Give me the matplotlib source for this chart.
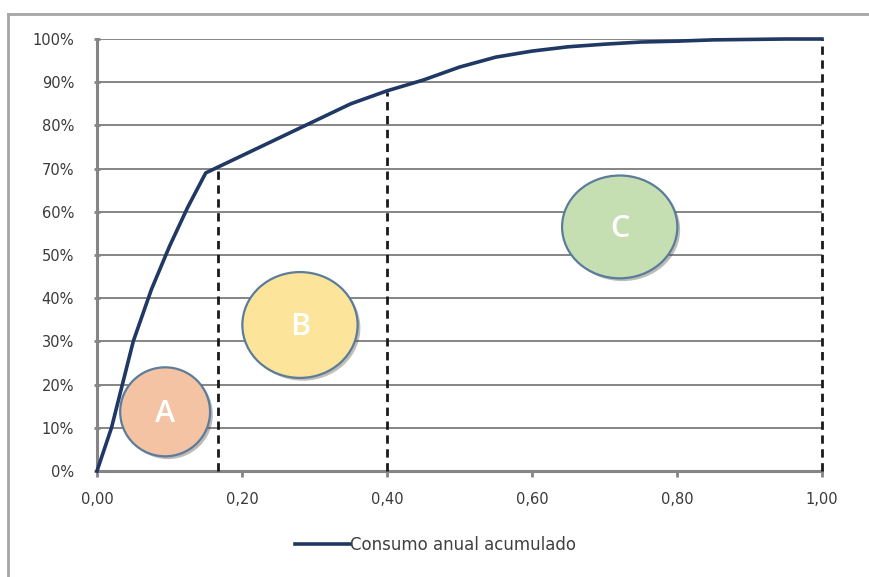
import matplotlib.pyplot as plt
from matplotlib.patches import Ellipse
from matplotlib.lines import Line2D
import matplotlib.patheffects as pe

plt.rcParams['font.family'] = ['DejaVu Sans']

# cumulative share of items vs cumulative annual consumption
share = [0.0, 0.02, 0.05, 0.075, 0.10, 0.125, 0.15, 0.20, 0.25, 0.30, 0.35, 0.40,
         0.45, 0.50, 0.55, 0.60, 0.65, 0.70, 0.75, 0.80, 0.85, 0.90, 0.95, 1.0]
consumo = [0.0, 0.10, 0.30, 0.42, 0.52, 0.61, 0.69, 0.73, 0.77, 0.81, 0.85, 0.88,
           0.905, 0.935, 0.958, 0.972, 0.982, 0.988, 0.993, 0.995, 0.998, 0.999, 1.0, 1.0]

# class boundaries (x, y top of dashed line)
cut_x = [0.167, 0.40, 1.0]
cut_y = [0.706, 0.877, 1.0]

classes = ['A', 'B', 'C']
class_colors = ['#F4C3A3', '#FCE59A', '#C6DFB2']

yticks = [i / 10 for i in range(11)]
ytick_labels = [f'{i * 10}%' for i in range(11)]
xticks = [0.0, 0.2, 0.4, 0.6, 0.8, 1.0]
xtick_labels = ['0,00', '0,20', '0,40', '0,60', '0,80', '1,00']

fig = plt.figure(figsize=(8.69, 5.77), dpi=100)
ax = fig.add_axes([0.1116, 0.1837, 0.8343, 0.7487])

# outer chart frame (only top and left visible)
fig.add_artist(Line2D([8 / 869, 1.0], [1 - 14 / 577, 1 - 14 / 577], transform=fig.transFigure,
                      color='#A6A6A6', lw=2))
fig.add_artist(Line2D([8 / 869, 8 / 869], [0.0, 1 - 14 / 577], transform=fig.transFigure,
                      color='#A6A6A6', lw=2))

ax.set_xlim(0, 1.0)
ax.set_ylim(0, 1.0)
ax.set_yticks(yticks)
ax.set_yticklabels(ytick_labels)
ax.set_xticks(xticks)
ax.set_xticklabels(xtick_labels)
ax.grid(axis='y', color='#858585', lw=1.4, zorder=0)
ax.set_axisbelow(True)
for s in ['top', 'right']:
    ax.spines[s].set_visible(False)
for s in ['left', 'bottom']:
    ax.spines[s].set_color('#858585')
    ax.spines[s].set_linewidth(2.2)
ax.tick_params(axis='y', length=5, width=2, color='#858585', labelsize=10.5,
               labelcolor='#3A3A3A', direction='inout', pad=14)
ax.tick_params(axis='x', length=4, width=2, color='#858585', labelsize=10.5,
               labelcolor='#3A3A3A', pad=11)

# class bubbles
centers = [(0.094, 0.137), (0.28, 0.338), (0.721, 0.565)]
sizes = [(0.124, 0.206), (0.159, 0.245), (0.159, 0.238)]
for lab, col, (cx, cy), (w, h) in zip(classes, class_colors, centers, sizes):
    e = Ellipse((cx, cy), w, h, facecolor=col, edgecolor='#5B7C9A', lw=1.6, zorder=2,
                path_effects=[pe.SimplePatchShadow(offset=(2, -2), alpha=0.35), pe.Normal()])
    ax.add_patch(e)
    ax.text(cx, cy - 0.005, lab, color='white', fontsize=22, fontweight='semibold',
            family=['Open Sans', 'DejaVu Sans'], ha='center', va='center', zorder=3)

for x, y in zip(cut_x, cut_y):
    ax.plot([x, x], [0, y], color='#1a1a1a', lw=2, ls=(0, (3, 2)), zorder=4, clip_on=False)

ax.plot(share, consumo, color='#1F3864', lw=2.6, zorder=5, label='Consumo anual acumulado',
        clip_on=False)

leg = fig.legend(*ax.get_legend_handles_labels(), loc='center left',
                 bbox_to_anchor=(295 / 869, 1 - 545 / 577), frameon=False, fontsize=12,
                 handlelength=3.3, handletextpad=0.0, borderpad=0, borderaxespad=0)
for t in leg.get_texts():
    t.set_color('#404040')

fig.savefig('out.png', dpi=100)
